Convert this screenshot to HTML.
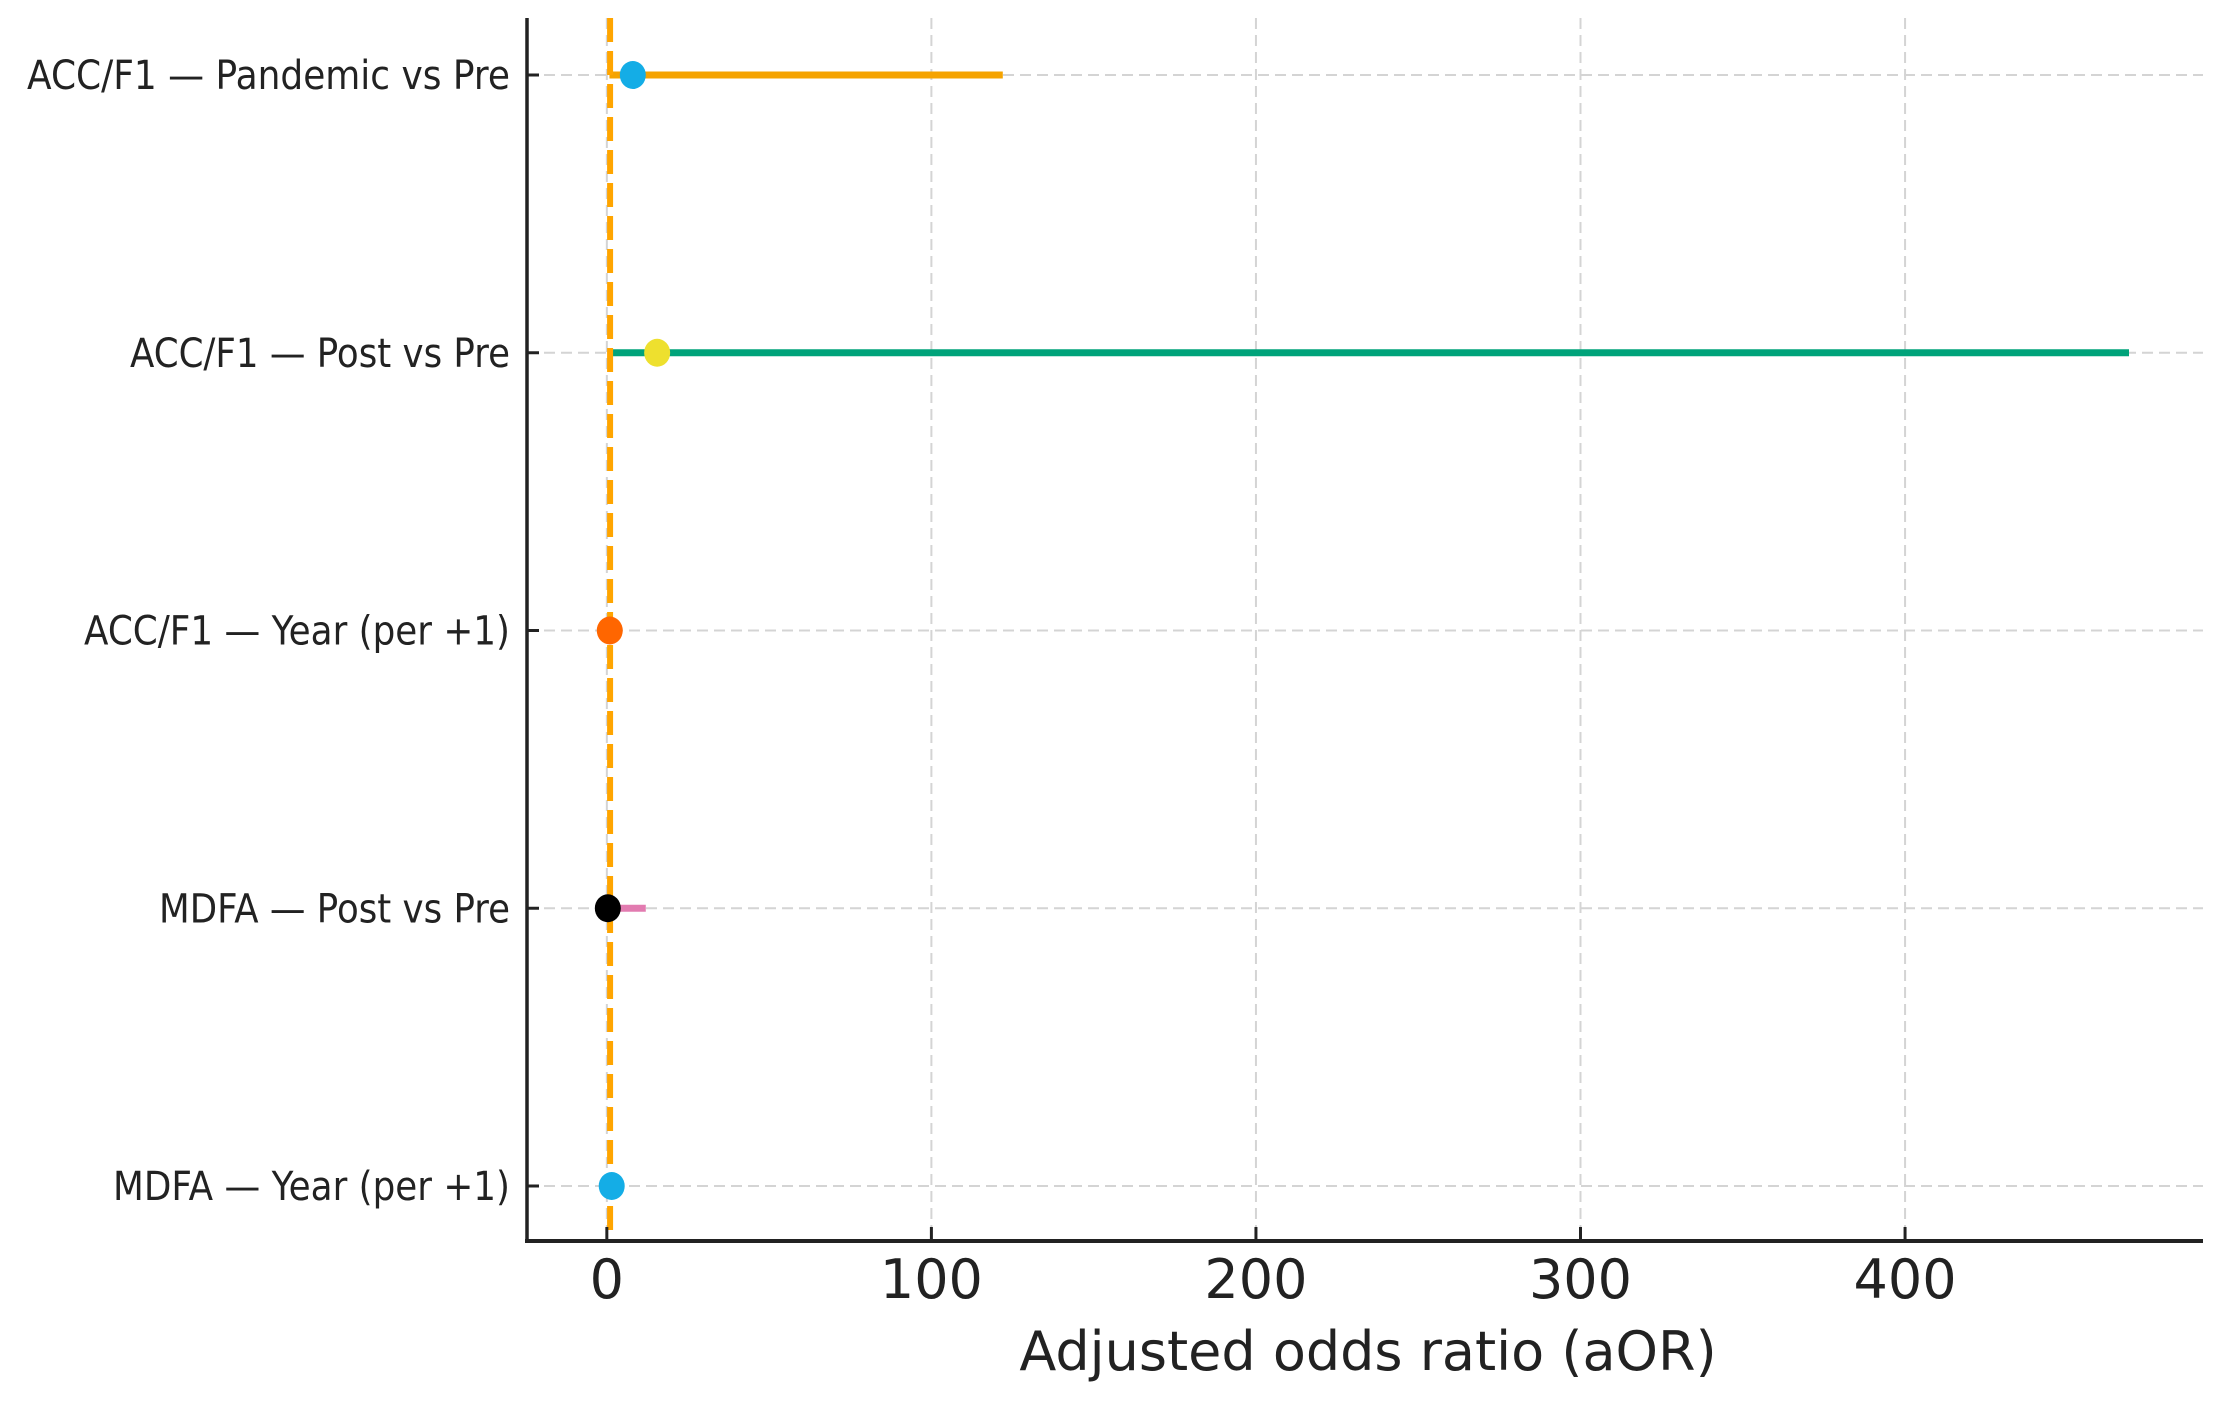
<!DOCTYPE html>
<html><head><meta charset="utf-8"><style>
html,body{margin:0;padding:0;background:#fff;}
svg{display:block;font-family:"DejaVu Sans","Liberation Sans",sans-serif;}
</style></head><body>
<svg id="chart" width="2240" height="1402" viewBox="0 0 2240 1402" xmlns="http://www.w3.org/2000/svg">
<g id="grid"></g>
<g id="marks"></g>
<g id="axes"></g>
</svg>
<script>
const categories = ["ACC/F1 — Pandemic vs Pre","ACC/F1 — Post vs Pre","ACC/F1 — Year (per +1)","MDFA — Post vs Pre","MDFA — Year (per +1)"];
const estimates = [8, 15.5, 0.9, 0.3, 1.5];
const ciLow = [0.8, 0.5, 0.9, 0.1, 0.9];
const ciHigh = [122, 469, 1.2, 12, 1.5];
const ciColors = ["#F5A300","#00A37A","#F5A300","#E27BB0","#F5A300"];
const dotColors = ["#14ADE6","#EEE02E","#FF6600","#000000","#14ADE6"];
const xTicks = [0,100,200,300,400];
const labelWidths = [483,380,426,351,397];

const NS="http://www.w3.org/2000/svg";
const X0=527, X1=2203, Y0=18, Y1=1241;
const vMin=-24.6, vMax=491.8;
function xs(v){return X0+(v-vMin)/(vMax-vMin)*(X1-X0);}
function ys(i){return 75+i*277.75;}
function mk(parent,tag,attrs){const e=document.createElementNS(NS,tag);for(const k in attrs)e.setAttribute(k,attrs[k]);parent.appendChild(e);return e;}
const grid=document.getElementById('grid'), marks=document.getElementById('marks'), axes=document.getElementById('axes');

xTicks.forEach(t=>{
  const l=mk(grid,'line',{x1:xs(t),x2:xs(t),y1:Y0,y2:Y1,stroke:'#d4d4d4','stroke-width':2,'stroke-dasharray':'11 6'});
  
  
});
categories.forEach((c,i)=>{
  const l=mk(grid,'line',{x1:X0,x2:X1,y1:ys(i),y2:ys(i),stroke:'#d4d4d4','stroke-width':2,'stroke-dasharray':'11 6'});
  
  
});

categories.forEach((c,i)=>{
  const l=mk(marks,'line',{x1:xs(ciLow[i]),x2:xs(ciHigh[i]),y1:ys(i),y2:ys(i),stroke:ciColors[i],'stroke-width':7});
  
  
});
const ref=mk(marks,'line',{x1:xs(1),x2:xs(1),y1:Y0,y2:Y1,stroke:'#FFA500','stroke-width':6,'stroke-dasharray':'24 9'});


categories.forEach((c,i)=>{
  const d=mk(marks,'ellipse',{cx:xs(estimates[i]),cy:ys(i),rx:13,ry:14,fill:dotColors[i]});
  
  
});

const ya=mk(axes,'line',{x1:X0,x2:X0,y1:Y0,y2:Y1+2,stroke:'#222','stroke-width':3.5});


const xa=mk(axes,'line',{x1:X0-2,x2:X1,y1:Y1,y2:Y1,stroke:'#222','stroke-width':4});


categories.forEach((c,i)=>{
  const tk=mk(axes,'line',{x1:X0,x2:X0+12,y1:ys(i),y2:ys(i),stroke:'#222','stroke-width':3});
  
  
  const t=mk(axes,'text',{x:510,y:ys(i)+14,'text-anchor':'end','font-size':40,fill:'#222',textLength:labelWidths[i],lengthAdjust:'spacingAndGlyphs'});
  t.textContent=c;
  
  
});
xTicks.forEach(v=>{
  const tk=mk(axes,'line',{x1:xs(v),x2:xs(v),y1:Y1-14,y2:Y1,stroke:'#222','stroke-width':3});
  
  
  const t=mk(axes,'text',{x:xs(v),y:1298,'text-anchor':'middle','font-size':54,fill:'#222'});
  t.textContent=String(v);
  
  
});
const xt=mk(axes,'text',{x:1368,y:1370,'text-anchor':'middle','font-size':54,fill:'#222'});
xt.textContent="Adjusted odds ratio (aOR)";


</script>
</body></html>
